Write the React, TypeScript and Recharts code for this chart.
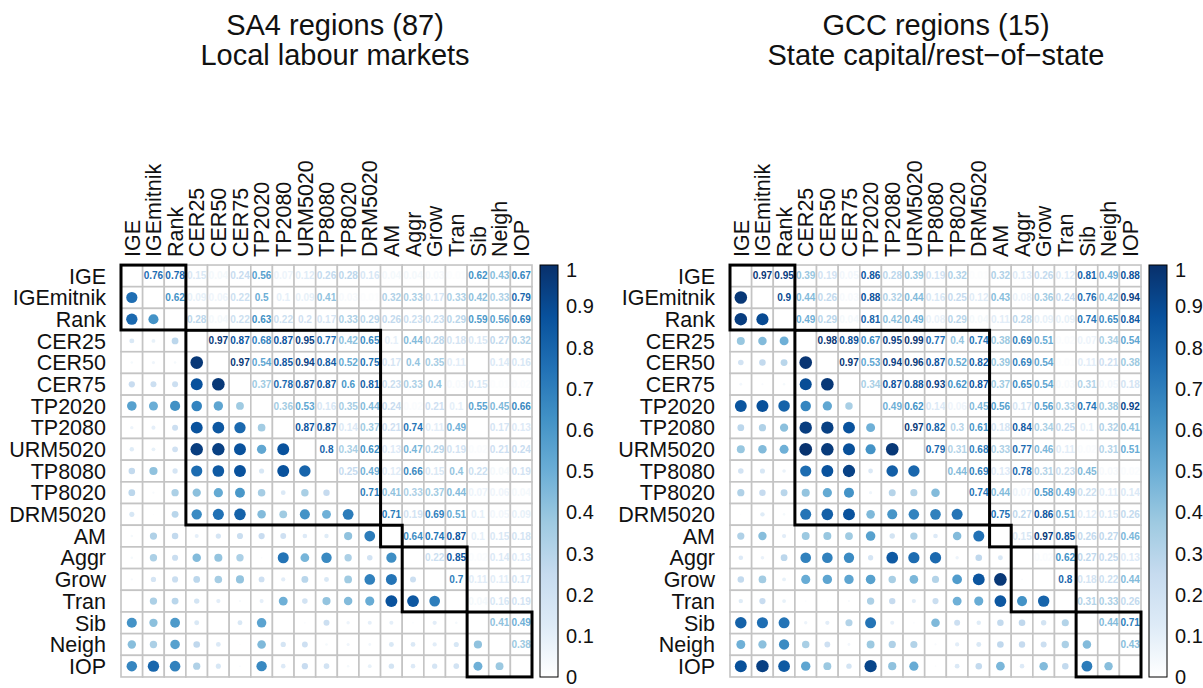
import React from 'react';
import { ScatterChart, Scatter, XAxis, YAxis } from 'recharts';

const vars = ['IGE', 'IGEmitnik', 'Rank', 'CER25', 'CER50', 'CER75', 'TP2020', 'TP2080', 'URM5020', 'TP8080', 'TP8020', 'DRM5020', 'AM', 'Aggr', 'Grow', 'Tran', 'Sib', 'Neigh', 'IOP'];

// upper triangle, row i holds the values for columns i+1 .. 18
const sa4Upper = [
  [0.76, 0.78, 0.15, 0.04, 0.24, 0.56, 0.07, 0.12, 0.26, 0.28, 0.16, 0.04, 0.04, 0.03, 0.01, 0.62, 0.43, 0.67],
  [0.62, 0.09, 0.06, 0.22, 0.5, 0.1, 0.09, 0.41, 0.03, 0.01, 0.32, 0.33, 0.17, 0.33, 0.42, 0.33, 0.79],
  [0.28, 0.04, 0.22, 0.63, 0.22, 0.2, 0.17, 0.33, 0.29, 0.26, 0.23, 0.23, 0.29, 0.59, 0.56, 0.69],
  [0.97, 0.87, 0.68, 0.87, 0.95, 0.77, 0.42, 0.65, 0.1, 0.44, 0.28, 0.18, 0.15, 0.27, 0.32],
  [0.97, 0.54, 0.85, 0.94, 0.84, 0.52, 0.75, 0.17, 0.4, 0.35, 0.11, 0, 0.14, 0.16],
  [0.37, 0.78, 0.87, 0.87, 0.6, 0.81, 0.23, 0.33, 0.4, 0.03, 0.15, 0.01, 0.02],
  [0.36, 0.53, 0.16, 0.35, 0.44, 0.24, 0.02, 0.21, 0.1, 0.55, 0.45, 0.66],
  [0.87, 0.87, 0.14, 0.37, 0.21, 0.74, 0.11, 0.49, 0, 0.17, 0.13],
  [0.8, 0.34, 0.62, 0.13, 0.47, 0.29, 0.19, 0.02, 0.21, 0.24],
  [0.25, 0.49, 0.12, 0.66, 0.15, 0.4, 0.22, 0.04, 0.19],
  [0.71, 0.41, 0.33, 0.37, 0.44, 0.07, 0.06, 0.04],
  [0.71, 0.19, 0.69, 0.51, 0.1, 0.05, 0.09],
  [0.64, 0.74, 0.87, 0.1, 0.15, 0.18],
  [0.22, 0.85, 0.02, 0.14, 0.13],
  [0.7, 0.11, 0.11, 0.17],
  [0.04, 0.16, 0.19],
  [0.41, 0.49],
  [0.38],
];

const gccUpper = [
  [0.97, 0.95, 0.39, 0.19, 0.05, 0.86, 0.28, 0.39, 0.19, 0.32, 0.01, 0.32, 0.13, 0.26, 0.12, 0.81, 0.49, 0.88],
  [0.9, 0.44, 0.26, 0.03, 0.88, 0.32, 0.44, 0.16, 0.25, 0.12, 0.43, 0.08, 0.36, 0.24, 0.76, 0.42, 0.94],
  [0.49, 0.29, 0.04, 0.81, 0.42, 0.49, 0.08, 0.29, 0.04, 0.11, 0.28, 0.09, 0.09, 0.74, 0.65, 0.84],
  [0.98, 0.89, 0.67, 0.95, 0.99, 0.77, 0.4, 0.74, 0.38, 0.69, 0.51, 0.02, 0.07, 0.34, 0.54],
  [0.97, 0.53, 0.94, 0.96, 0.87, 0.52, 0.82, 0.39, 0.69, 0.54, 0.01, 0.11, 0.21, 0.38],
  [0.34, 0.87, 0.88, 0.93, 0.62, 0.87, 0.37, 0.65, 0.54, 0.03, 0.31, 0.05, 0.18],
  [0.49, 0.62, 0.14, 0.06, 0.45, 0.56, 0.17, 0.56, 0.33, 0.74, 0.38, 0.92],
  [0.97, 0.82, 0.3, 0.61, 0.18, 0.84, 0.34, 0.25, 0.1, 0.32, 0.41],
  [0.79, 0.31, 0.68, 0.33, 0.77, 0.46, 0.11, 0.02, 0.31, 0.51],
  [0.44, 0.69, 0.13, 0.78, 0.31, 0.23, 0.45, 0.03, 0.02],
  [0.74, 0.44, 0.07, 0.58, 0.49, 0.22, 0.11, 0.14],
  [0.75, 0.27, 0.86, 0.51, 0.12, 0.15, 0.26],
  [0.15, 0.97, 0.85, 0.26, 0.27, 0.46],
  [0.02, 0.62, 0.27, 0.25, 0.13],
  [0.8, 0.18, 0.22, 0.44],
  [0.31, 0.33, 0.26],
  [0.44, 0.71],
  [0.43],
];

// variable groups outlined in black (first, last index)
const blocks = [[0, 2], [3, 11], [12, 12], [13, 15], [16, 18]];
const legendTicks = [1, 0.9, 0.8, 0.7, 0.6, 0.5, 0.4, 0.3, 0.2, 0.1, 0];

const FONT = '"Liberation Sans", Arial, sans-serif';
const CELL = 411 / 19;
const BLUES = ['#ffffff', '#deebf7', '#c6dbef', '#9ecae1', '#6baed6', '#4292c6', '#2171b5', '#08519c', '#08306b'];

const hex = (h: string) => [1, 3, 5].map((i) => parseInt(h.slice(i, i + 2), 16));
const colorFor = (v: number) => {
  const t = Math.max(0, Math.min(1, v)) * (BLUES.length - 1);
  const i = Math.min(Math.floor(t), BLUES.length - 2);
  const f = t - i;
  const a = hex(BLUES[i]);
  const b = hex(BLUES[i + 1]);
  const c = a.map((x, k) => Math.round(x + (b[k] - x) * f));
  return `rgb(${c[0]},${c[1]},${c[2]})`;
};

const buildCells = (upper: number[][]) => {
  const val = (r: number, c: number) => (r < c ? upper[r][c - r - 1] : upper[c][r - c - 1]);
  const cells: { x: number; y: number; v: number; kind: string }[] = [];
  vars.forEach((_, r) => {
    vars.forEach((__, c) => {
      cells.push({ x: c, y: r, v: r === c ? 1 : val(r, c), kind: r === c ? 'diag' : r < c ? 'num' : 'dot' });
    });
  });
  return cells;
};

const blockData = blocks.map(([a, b]) => ({ x: (a + b) / 2, y: (a + b) / 2, n: b - a + 1 }));

const renderCell = (p: any) => {
  const { cx, cy, payload } = p;
  const h = CELL / 2;
  return (
    <g>
      <rect x={cx - h} y={cy - h} width={CELL} height={CELL} fill="#fff" stroke="#c4c4c4" strokeWidth={1.6} />
      {payload.kind === 'dot' && <circle cx={cx} cy={cy} r={6.4 * Math.sqrt(payload.v)} fill={colorFor(payload.v)} />}
      {payload.kind === 'num' && (
        <text x={cx} y={cy} dy="0.36em" textAnchor="middle" fontSize={10} fontWeight={700} fontFamily={FONT} fill={colorFor(payload.v)}>
          {String(payload.v)}
        </text>
      )}
    </g>
  );
};

const renderBlock = (p: any) => {
  const s = p.payload.n * CELL;
  return <rect x={p.cx - s / 2} y={p.cy - s / 2} width={s} height={s} fill="none" stroke="#000" strokeWidth={3} />;
};

const ColTick = (p: any) => (
  <text x={p.x} y={p.y} dy="0.36em" transform={`rotate(-90 ${p.x} ${p.y})`} textAnchor="start" fontSize={21.5} fontFamily={FONT} fill="#111">
    {vars[p.payload.value]}
  </text>
);

const RowTick = (p: any) => (
  <text x={p.x - 7} y={p.y} dy="0.36em" textAnchor="end" fontSize={21.5} fontFamily={FONT} fill="#111">
    {vars[p.payload.value]}
  </text>
);

const ColorBar = ({ id }: { id: string }) => (
  <svg width={70} height={440} style={{ position: 'absolute', left: 530, top: 250 }}>
    <defs>
      <linearGradient id={id} x1="0" y1="1" x2="0" y2="0">
        {BLUES.map((c, i) => (
          <stop key={i} offset={i / (BLUES.length - 1)} stopColor={c} />
        ))}
      </linearGradient>
    </defs>
    <rect x={10} y={15} width={18} height={412} fill={`url(#${id})`} stroke="#000" strokeWidth={1} />
    {legendTicks.map((t) => (
      <text key={t} x={36} y={15 + (1 - t) * 412 + (t === 1 ? 5 : 0)} dy="0.36em" fontSize={20} fontFamily={FONT} fill="#111">
        {String(t)}
      </text>
    ))}
  </svg>
);

interface PanelProps {
  upper: number[][];
  left: number;
  line1: string;
  line2: string;
  id: string;
  titleCenter: number;
}

const Panel = ({ upper, left, line1, line2, id, titleCenter }: PanelProps) => {
  const cells = buildCells(upper);
  const idx = vars.map((_, i) => i);
  const titleStyle: React.CSSProperties = { position: 'absolute', left: titleCenter - 300, width: 600, textAlign: 'center', fontFamily: FONT, fontSize: 29, color: '#111', whiteSpace: 'nowrap', lineHeight: '32px' };
  return (
    <div style={{ position: 'absolute', left, top: 0, width: 600, height: 688 }}>
      <div style={{ ...titleStyle, top: 9 }}>{line1}</div>
      <div style={{ ...titleStyle, top: 39 }}>{line2}</div>
      <ScatterChart width={600} height={688} margin={{ top: 0, right: 68, bottom: 11, left: 0 }}>
        <XAxis type="number" dataKey="x" orientation="top" domain={[-0.5, 18.5]} ticks={idx} interval={0} height={265} axisLine={false} tickLine={false} tick={ColTick} />
        <YAxis type="number" dataKey="y" reversed domain={[-0.5, 18.5]} ticks={idx} interval={0} width={121} axisLine={false} tickLine={false} tick={RowTick} />
        <Scatter data={cells} shape={renderCell} isAnimationActive={false} />
        <Scatter data={blockData} shape={renderBlock} isAnimationActive={false} />
      </ScatterChart>
      <ColorBar id={id} />
    </div>
  );
};

export default function App() {
  return (
    <div style={{ position: 'absolute', left: 0, top: 0, width: 1203, height: 688, background: '#fff', overflow: 'hidden' }}>
      <Panel upper={sa4Upper} left={0} line1="SA4 regions (87)" line2="Local labour markets" id="gradA" titleCenter={335} />
      <Panel upper={gccUpper} left={609} line1="GCC regions (15)" line2="State capital/rest−of−state" id="gradB" titleCenter={327} />
    </div>
  );
}
